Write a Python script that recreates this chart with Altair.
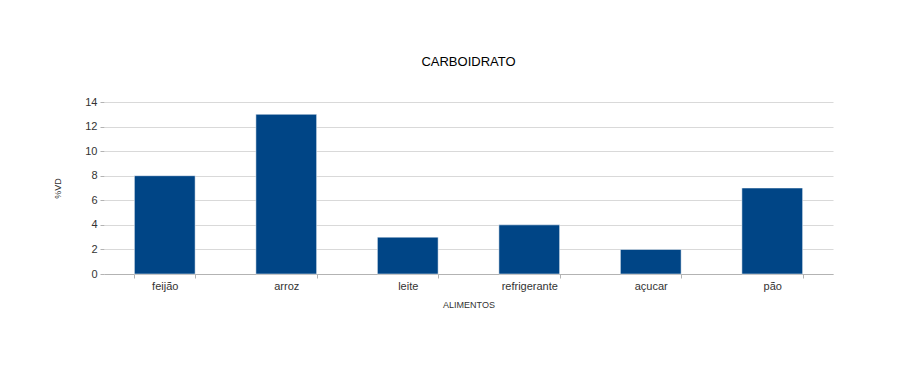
import altair as alt
import pandas as pd

# Carbohydrate share (%VD) per food
alimentos = ["feijão", "arroz", "leite", "refrigerante", "açucar", "pão"]
vd = [8, 13, 3, 4, 2, 7]

df = pd.DataFrame({"ALIMENTOS": alimentos, "VD": vd})

font = "Liberation Sans"

bars = alt.Chart(df).mark_bar(color="#004586", stroke="#ffffff", strokeWidth=0.5).encode(
    x=alt.X(
        "ALIMENTOS:N",
        sort=alimentos,
        title="ALIMENTOS",
        scale=alt.Scale(paddingInner=0.5, paddingOuter=0.25),
        axis=alt.Axis(
            labelAngle=0,
            labelFont=font,
            labelFontSize=11,
            labelColor="#333333",
            labelPadding=2,
            titleFont=font,
            titleFontSize=9,
            titleFontWeight="normal",
            titleColor="#333333",
            titlePadding=9,
            domainColor="#b3b3b3",
            tickColor="#b3b3b3",
            tickBand="extent",
            tickSize=4,
            grid=False,
        ),
    ),
    y=alt.Y(
        "VD:Q",
        title="%VD",
        scale=alt.Scale(domain=[0, 14]),
        axis=alt.Axis(
            values=list(range(0, 15, 2)),
            labelFont=font,
            labelFontSize=11,
            labelColor="#333333",
            labelPadding=3,
            titleFont=font,
            titleFontSize=9,
            titleFontWeight="normal",
            titleColor="#333333",
            titlePadding=22,
            domain=False,
            tickColor="#b3b3b3",
            tickSize=4,
            gridColor="#d9d9d9",
        ),
    ),
)

chart = bars.properties(
    width=729,
    height=172,
    title=alt.TitleParams(
        "CARBOIDRATO",
        font=font,
        fontSize=13,
        fontWeight="normal",
        color="#000000",
        anchor="middle",
        offset=27,
    ),
    padding={"left": 104, "top": 102, "right": 88, "bottom": 100},
    autosize=alt.AutoSizeParams(type="none"),
    background="#ffffff",
).configure_view(stroke=None)

chart.save("out.html", embed_options={"renderer": "svg", "actions": False})
